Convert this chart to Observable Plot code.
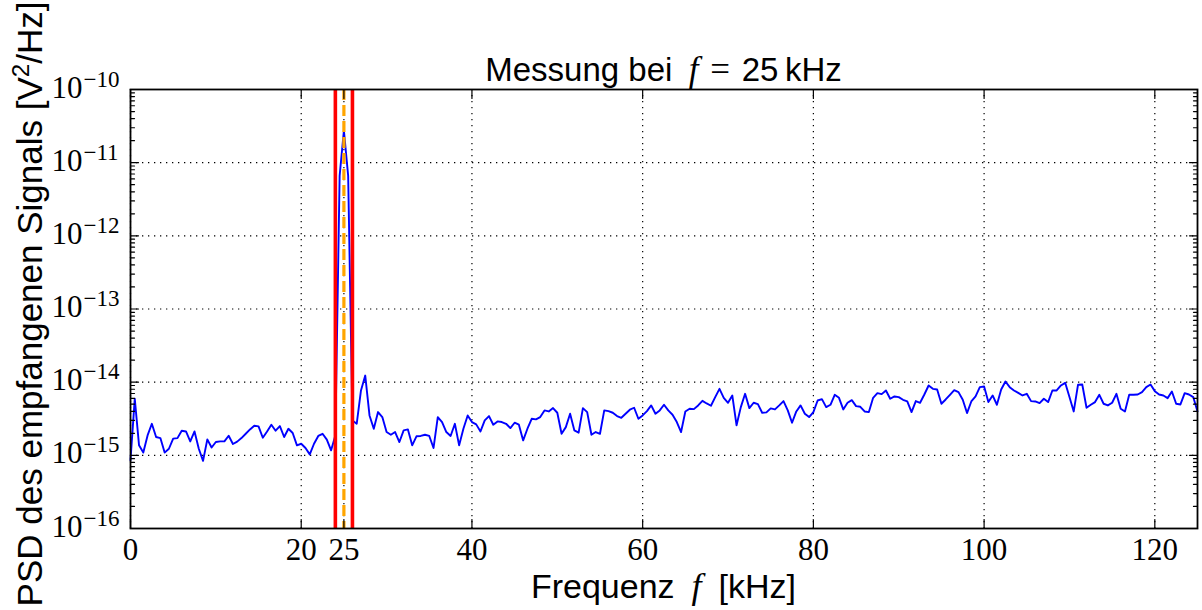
<!DOCTYPE html>
<html><head><meta charset="utf-8">
<script src="https://cdn.jsdelivr.net/npm/d3@7"></script>
<script src="https://cdn.jsdelivr.net/npm/@observablehq/plot@0.6"></script>
<style>body{margin:0;background:#fff} svg{display:block}</style>
</head><body><div id="chart"></div>
<script>
// PSD values in units of 1e-15 V^2/Hz, one per 0.5 kHz bin
const psdUnit = 1e-15;
const freqStep = 0.5; // kHz
const psd_0_24 = [0.86, 5.93, 1.37, 1.09, 1.87, 2.70, 1.78, 1.72, 1.09, 1.23,
  1.69, 1.72, 2.17, 2.12, 1.55, 2.12, 1.23, 0.84, 1.65, 1.28,
  1.52, 1.55, 1.55, 1.85, 1.43, 1.54, 1.72, 1.97, 2.26, 2.54,
  2.49, 1.74, 2.12, 2.62, 2.17, 2.51, 1.78, 2.31, 2.02, 1.37,
  1.44, 1.26, 1.03, 1.44, 1.84, 1.97, 1.64, 1.17, 1.87];
const psd_peak = [6600, 27500, 6600]; // 24.5, 25, 25.5 kHz
const psd_26_50 = [3.00, 2.70, 7.70, 12.3, 3.51, 2.31, 3.90, 3.33, 2.08, 1.91,
  2.08, 1.52, 2.19, 2.26, 1.37, 1.82, 1.84, 1.91, 1.84, 1.26,
  3.33, 2.85, 2.08, 1.84, 2.70, 1.37, 2.31, 3.51, 2.85, 2.65,
  2.12, 3.00, 3.44, 2.62, 2.91, 2.85, 2.70, 2.36, 2.79, 2.62,
  1.60, 2.31, 3.16, 3.10, 3.33, 4.11, 3.98, 4.42, 3.82];
const psd_50_75 = [1.97, 2.43, 3.70, 2.19, 2.04, 4.42, 3.90, 1.91, 2.08, 1.97,
  4.11, 4.02, 3.82, 3.44, 3.26, 3.70, 4.20, 4.47, 3.16, 3.51,
  4.02, 4.81, 3.70, 4.11, 4.91, 4.11, 3.59, 2.85, 2.08, 3.98,
  4.33, 4.28, 4.81, 5.56, 5.12, 4.76, 6.25, 8.11, 6.11, 5.23,
  6.58, 2.57, 4.56, 6.93, 4.42, 5.23, 5.01, 3.82, 3.86, 4.38];
const psd_75_100 = [4.24, 4.81, 5.51, 4.11, 2.79, 3.98, 4.81, 3.70, 3.33, 3.90,
  5.62, 5.87, 4.56, 4.91, 6.72, 6.11, 4.24, 5.23, 5.68, 4.71,
  4.61, 3.98, 3.90, 6.11, 7.08, 6.86, 7.70, 5.93, 6.38, 6.25,
  5.74, 5.45, 3.90, 5.51, 5.23, 6.79, 9.01, 8.11, 7.94, 5.07,
  5.80, 6.72, 7.78, 7.31, 5.74, 3.78, 5.45, 6.38, 8.55, 8.73];
const psd_100_125 = [5.34, 6.58, 4.91, 7.94, 10.2, 8.55, 7.70, 7.15, 6.58, 6.93,
  5.51, 5.45, 5.17, 5.93, 5.34, 7.70, 7.70, 9.01, 9.79, 6.25,
  3.98, 9.20, 9.29, 4.47, 4.91, 5.34, 6.72, 5.07, 4.81, 5.23,
  6.93, 4.33, 3.98, 6.72, 6.72, 6.79, 7.31, 8.55, 9.29, 7.54,
  6.79, 6.58, 6.05, 7.46, 5.07, 4.96, 7.08, 6.79, 6.25, 3.98];

const xTicks = [0, 20, 25, 40, 60, 80, 100, 120];
const yMajor = [1e-16, 1e-15, 1e-14, 1e-13, 1e-12, 1e-11, 1e-10];
const minorMult = [2, 3, 4, 5, 6, 7, 8, 9];
const bandEdges = [24, 26];
const centerFreq = 25;

const psdAll = [...psd_0_24, ...psd_peak, ...psd_26_50, ...psd_50_75, ...psd_75_100, ...psd_100_125];
const data = psdAll.map((v, i) => ({f: i * freqStep, psd: v * psdUnit}));
const yMinor = yMajor.slice(0, -1).flatMap(d => minorMult.map(m => d * m));

const tickShape = {draw(ctx, l) { ctx.moveTo(0, 0); ctx.lineTo(0, -l); }};
const tk = {anchor: "start", shape: tickShape, stroke: "black", strokeWidth: 1.2};
const gridStyle = {stroke: "black", strokeOpacity: 1, strokeWidth: 1.2, strokeDasharray: "1.3,4.7"};

const plot = Plot.plot({
  width: 1202, height: 610,
  marginLeft: 130, marginRight: 5, marginTop: 89, marginBottom: 82,
  style: {background: "white", overflow: "visible"},
  x: {domain: [0, 125], axis: null},
  y: {type: "log", domain: [1e-16, 1e-10], axis: null},
  marks: [
    Plot.gridX(xTicks, gridStyle),
    Plot.gridY(yMajor, gridStyle),
    Plot.line(data, {x: "f", y: "psd", stroke: "#0000ff", strokeWidth: 1.9}),
    Plot.ruleX(bandEdges, {stroke: "#ff0000", strokeWidth: 3.6}),
    Plot.ruleX([centerFreq], {stroke: "#ffa500", strokeWidth: 3.2, strokeDasharray: "11,5"}),
    Plot.frame({stroke: "black", strokeWidth: 1.8}),
    Plot.vector(xTicks, {x: d => d, frameAnchor: "bottom", rotate: 0, length: 9, ...tk}),
    Plot.vector(xTicks, {x: d => d, frameAnchor: "top", rotate: 180, length: 9, ...tk}),
    Plot.vector(yMajor, {y: d => d, frameAnchor: "left", rotate: 90, length: 8, ...tk}),
    Plot.vector(yMinor, {y: d => d, frameAnchor: "left", rotate: 90, length: 4, ...tk}),
    Plot.vector(yMajor, {y: d => d, frameAnchor: "right", rotate: -90, length: 8, ...tk}),
    Plot.vector(yMinor, {y: d => d, frameAnchor: "right", rotate: -90, length: 4, ...tk}),
    Plot.axisX({ticks: xTicks, tickSize: 0, tickPadding: 9, fontSize: 31, fontFamily: "Liberation Serif",
      label: null, tickFormat: d => String(d), fill: "black"}),
    Plot.text(yMajor, {y: d => d, frameAnchor: "left", text: () => "10", textAnchor: "end",
      lineAnchor: "bottom", dx: -48, dy: 8, fontSize: 31, fontFamily: "Liberation Serif", fill: "black"}),
    Plot.text(yMajor, {y: d => d, frameAnchor: "left", text: d => "\u2212" + Math.abs(Math.round(Math.log10(d))),
      textAnchor: "start", lineAnchor: "bottom", dx: -47, dy: -3, fontSize: 23, fontFamily: "Liberation Serif", fill: "black"})
  ]
});

const svg = d3.select(plot);
// Title
const title = svg.append("text").attr("x", 663.5).attr("y", 81).attr("text-anchor", "middle")
  .attr("font-family", "Liberation Sans").attr("font-size", 33).attr("fill", "black");
title.append("tspan").text("Messung bei\u2002");
title.append("tspan").attr("font-family", "Liberation Serif").attr("font-style", "italic").attr("font-size", 35).text("f");
title.append("tspan").attr("font-family", "Liberation Serif").attr("font-size", 35).text("\u2004=\u2004");
title.append("tspan").text("25\u2009kHz");
// X label
const xl = svg.append("text").attr("x", 663.5).attr("y", 598).attr("text-anchor", "middle")
  .attr("font-family", "Liberation Sans").attr("font-size", 34).attr("fill", "black");
xl.append("tspan").text("Frequenz\u2002");
xl.append("tspan").attr("font-family", "Liberation Serif").attr("font-style", "italic").attr("font-size", 36).text("f");
xl.append("tspan").text("\u2002[kHz]");
// Y label
const yl = svg.append("text").attr("transform", "translate(42,304) rotate(-90)").attr("text-anchor", "middle")
  .attr("font-family", "Liberation Sans").attr("font-size", 35).attr("fill", "black");
yl.append("tspan").text("PSD des empfangenen Signals [V");
yl.append("tspan").attr("dy", -13).attr("font-size", 24).text("2");
yl.append("tspan").attr("dy", 13).text("/Hz]");

document.getElementById("chart").appendChild(plot);
</script>
</body></html>
